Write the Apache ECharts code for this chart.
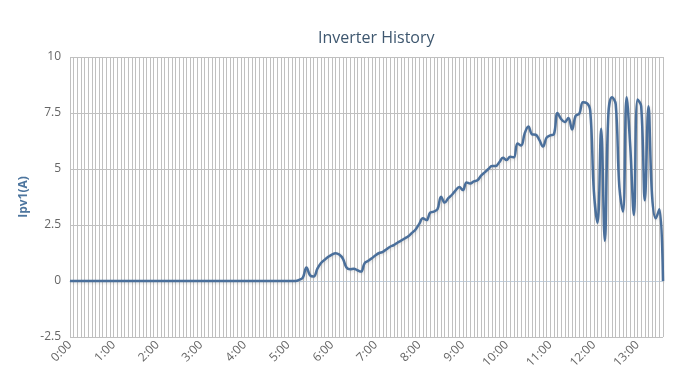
<!DOCTYPE html>
<html>
<head>
<meta charset="utf-8">
<script src="https://cdn.jsdelivr.net/npm/echarts@6/dist/echarts.min.js"></script>
<style>
html,body{margin:0;padding:0;background:#fff;}
#chart{width:679px;height:380px;}
</style>
</head>
<body>
<div id="chart"></div>
<script>
// Categories: 5-minute steps from 0:00 to 13:35
var categories = [];
for (var h = 0; h <= 13; h++) {
  for (var m = 0; m < 60; m += 5) {
    if (h === 13 && m > 35) break;
    categories.push(h + ':' + (m < 10 ? '0' + m : m));
  }
}
var yTicks = [-2.5, 0, 2.5, 5, 7.5, 10];
var nightZeros = [0,0,0,0,0,0,0,0,0,0,0,0,0,0,0,0,0,0,0,0,0,0,0,0,0,0,0,0,0,0,0,0,
  0,0,0,0,0,0,0,0,0,0,0,0,0,0,0,0,0,0,0,0,0,0,0,0,0,0,0,0,0,0,0];
var ipv1Day = [
  0.05, 0.15, 0.6, 0.25, 0.2, 0.55, 0.8, 0.95, 1.08, 1.18,
  1.24, 1.18, 1.0, 0.6, 0.52, 0.55, 0.48, 0.42, 0.8, 0.9,
  1.02, 1.15, 1.25, 1.3, 1.42, 1.53, 1.6, 1.71, 1.8, 1.9,
  2.0, 2.15, 2.3, 2.55, 2.8, 2.72, 3.05, 3.1, 3.2, 3.76,
  3.5, 3.7, 3.85, 4.05, 4.2, 4.06, 4.4, 4.35, 4.45, 4.5,
  4.7, 4.85, 5.0, 5.13, 5.13, 5.3, 5.5, 5.4, 5.55, 5.52,
  6.14, 6.05, 6.6, 6.9, 6.55, 6.53, 6.3, 6.0, 6.4, 6.5,
  6.55, 7.5, 7.23, 7.1, 7.28, 6.76, 7.38, 7.47, 7.98, 7.95,
  7.6, 4.0, 2.6, 6.8, 1.8, 7.5, 8.2, 7.9, 4.2, 3.1,
  8.2, 6.0, 2.95, 8.1, 7.8, 3.6, 7.8, 3.8, 2.8, 3.2,
  0
];
var ipv1 = nightZeros.concat(ipv1Day);

var chart = echarts.init(document.getElementById('chart'), null, {renderer: 'canvas'});
chart.setOption({
  animation: false,
  backgroundColor: '#ffffff',
  title: {
    text: 'Inverter History',
    left: 313,
    top: 25,
    textStyle: {fontFamily: 'Open Sans', fontSize: 16, fontWeight: 'normal', color: '#3e576f'}
  },
  grid: {left: 70, right: 16, top: 57, bottom: 43, containLabel: false},
  xAxis: {
    type: 'category',
    data: categories,
    boundaryGap: false,
    axisLine: {show: true, lineStyle: {color: '#c0d0e0'}},
    axisTick: {show: true, interval: 0, length: 4, lineStyle: {color: '#c0c0c0'}},
    axisLabel: {
      interval: 11,
      rotate: 45,
      color: '#666666',
      fontFamily: 'Open Sans',
      fontSize: 12,
      margin: 6
    },
    splitLine: {show: true, interval: 0, lineStyle: {color: '#c0c0c0', width: 1}}
  },
  yAxis: {
    type: 'value',
    min: yTicks[0],
    max: yTicks[yTicks.length - 1],
    interval: 2.5,
    name: 'Ipv1(A)',
    nameLocation: 'middle',
    nameGap: 40,
    nameTextStyle: {color: '#4d759e', fontFamily: 'Open Sans', fontSize: 12, fontWeight: 'bold'},
    axisLine: {show: false},
    axisTick: {show: false},
    axisLabel: {color: '#666666', fontFamily: 'Open Sans', fontSize: 12, margin: 9},
    splitLine: {show: true, lineStyle: {color: '#c0c0c0', width: 1}}
  },
  series: [{
    type: 'line',
    data: ipv1,
    smooth: 0.4,
    showSymbol: false,
    lineStyle: {color: '#4a6f9b', width: 2.5, shadowColor: 'rgba(0,0,0,0.12)', shadowBlur: 3, shadowOffsetX: 1, shadowOffsetY: 1}
  }]
});
</script>
</body>
</html>
